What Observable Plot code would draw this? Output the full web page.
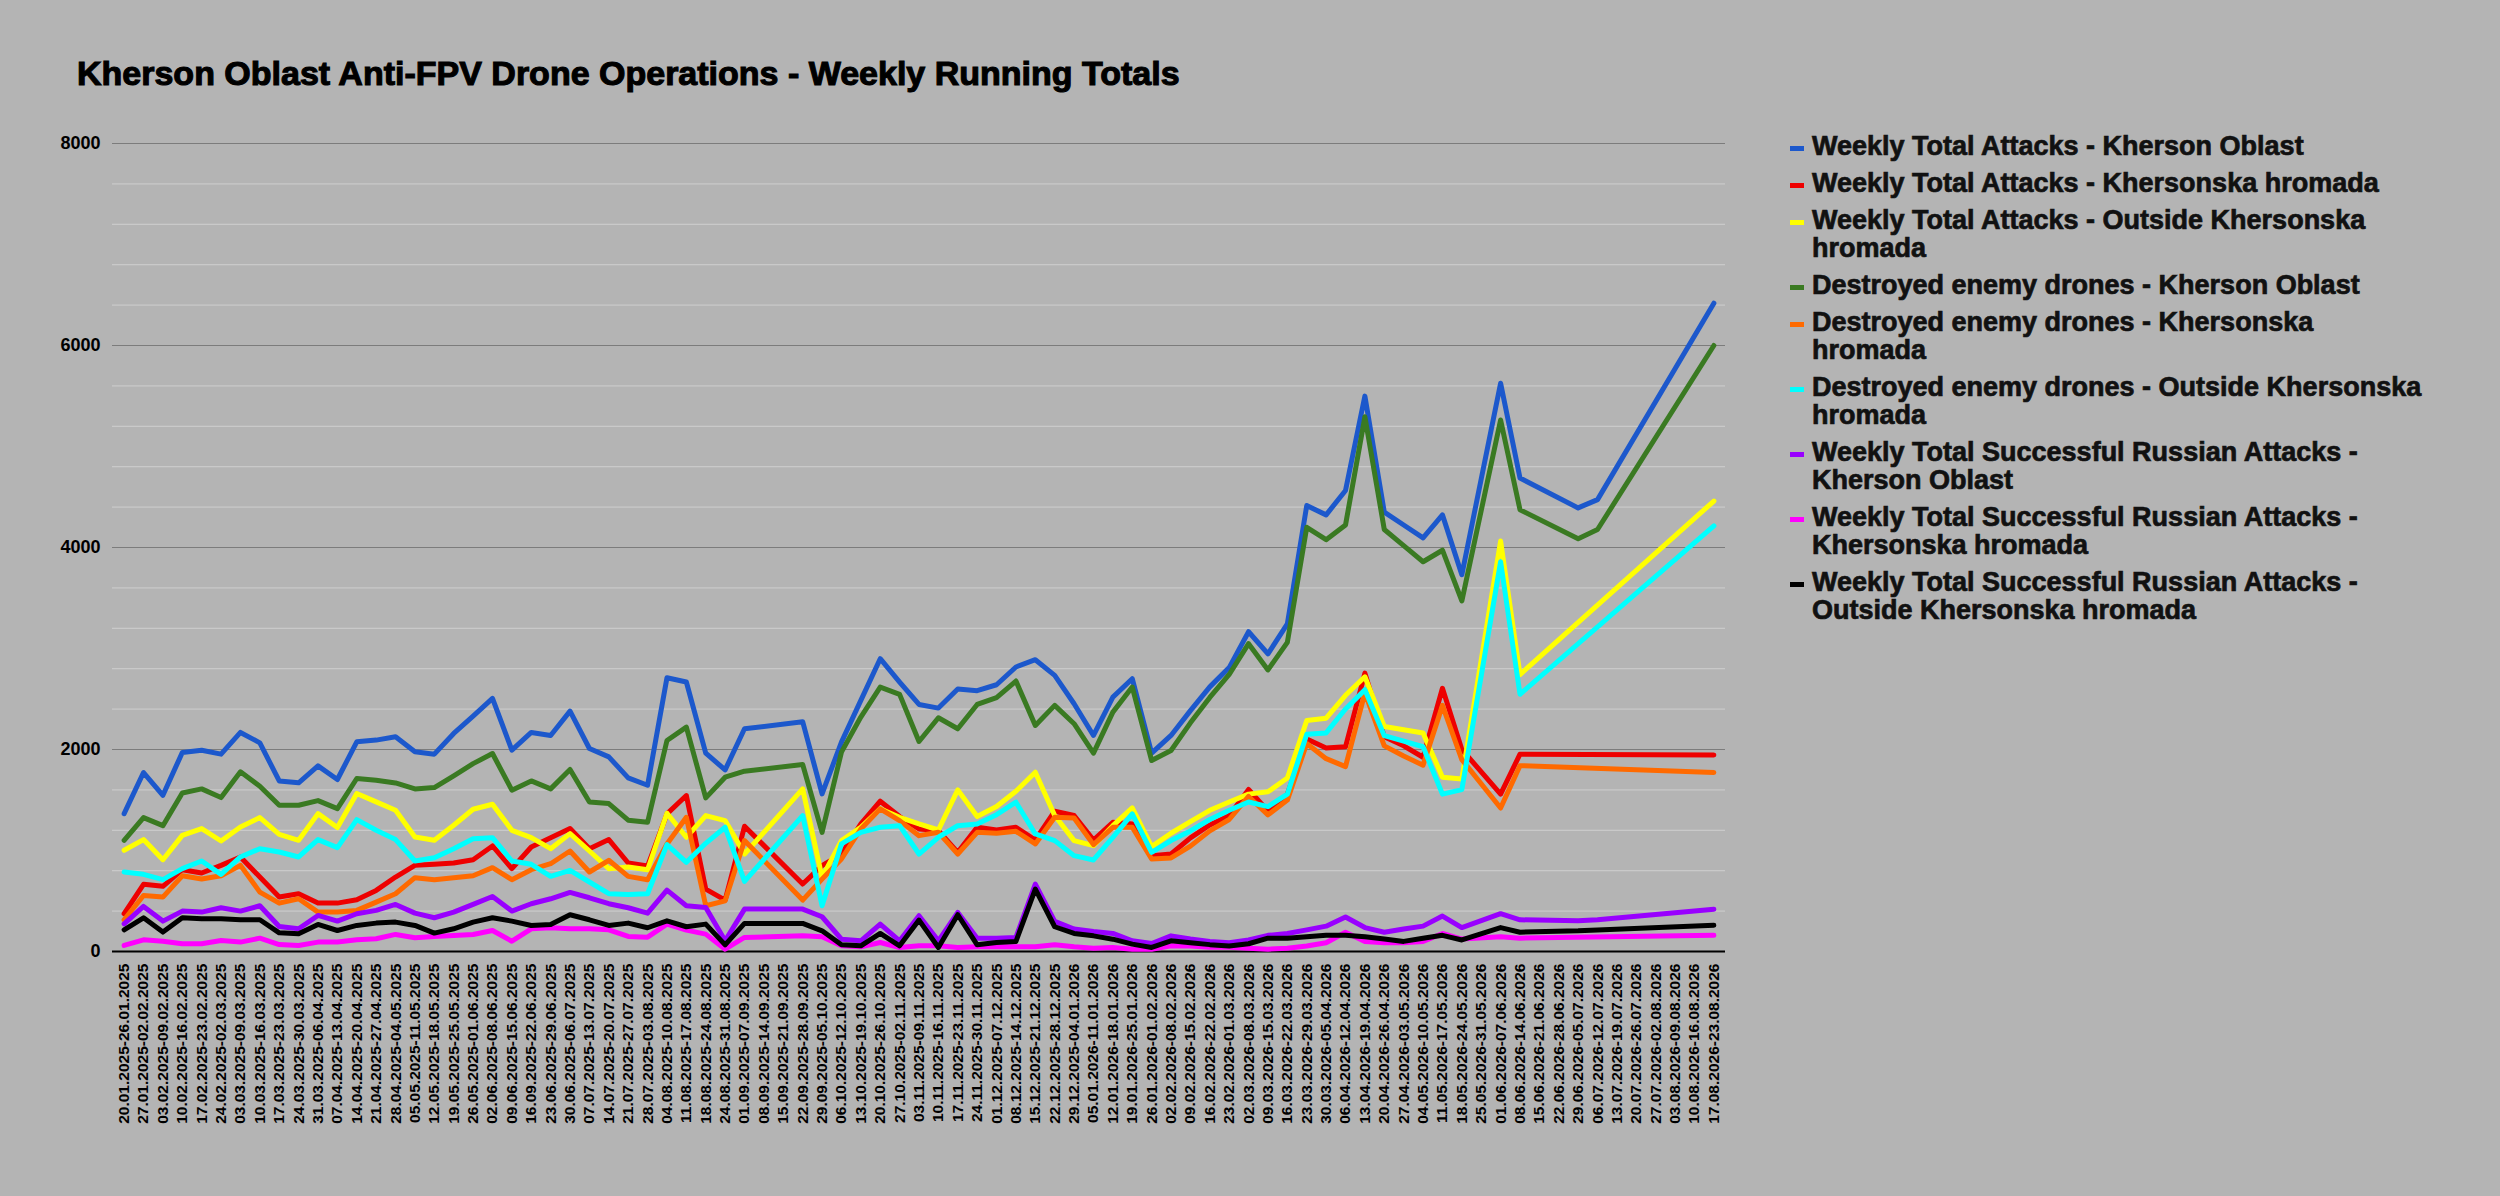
<!DOCTYPE html>
<html><head><meta charset="utf-8">
<script src="https://cdn.jsdelivr.net/npm/d3@7"></script>
<script src="https://cdn.jsdelivr.net/npm/@observablehq/plot@0.6"></script>
<style>
html,body{margin:0;padding:0;background:#b4b4b4;width:2500px;height:1196px;overflow:hidden;font-family:"Liberation Sans",Arial,sans-serif;}
#title{position:absolute;left:77px;top:54px;font-size:34px;font-weight:bold;color:#000;-webkit-text-stroke:1.1px #000;}
#chart{position:absolute;left:0;top:0;}
#legend{position:absolute;left:1790px;top:132px;width:640px;}
.item{display:flex;align-items:flex-start;margin-bottom:9px;}
.sw{width:14px;height:5px;margin-top:14px;margin-right:8px;flex:none;}
.lt{font-size:27px;font-weight:bold;line-height:28px;color:#111;-webkit-text-stroke:0.7px #111;}
</style></head><body>
<div id="title">Kherson Oblast Anti-FPV Drone Operations - Weekly Running Totals</div>
<div id="chart"></div>
<div id="legend"></div>
<script>
const weeks = ["20.01.2025-26.01.2025","27.01.2025-02.02.2025","03.02.2025-09.02.2025","10.02.2025-16.02.2025","17.02.2025-23.02.2025","24.02.2025-02.03.2025","03.03.2025-09.03.2025","10.03.2025-16.03.2025","17.03.2025-23.03.2025","24.03.2025-30.03.2025","31.03.2025-06.04.2025","07.04.2025-13.04.2025","14.04.2025-20.04.2025","21.04.2025-27.04.2025","28.04.2025-04.05.2025","05.05.2025-11.05.2025","12.05.2025-18.05.2025","19.05.2025-25.05.2025","26.05.2025-01.06.2025","02.06.2025-08.06.2025","09.06.2025-15.06.2025","16.09.2025-22.06.2025","23.06.2025-29.06.2025","30.06.2025-06.07.2025","07.07.2025-13.07.2025","14.07.2025-20.07.2025","21.07.2025-27.07.2025","28.07.2025-03.08.2025","04.08.2025-10.08.2025","11.08.2025-17.08.2025","18.08.2025-24.08.2025","24.08.2025-31.08.2025","01.09.2025-07.09.2025","08.09.2025-14.09.2025","15.09.2025-21.09.2025","22.09.2025-28.09.2025","29.09.2025-05.10.2025","06.10.2025-12.10.2025","13.10.2025-19.10.2025","20.10.2025-26.10.2025","27.10.2025-02.11.2025","03.11.2025-09.11.2025","10.11.2025-16.11.2025","17.11.2025-23.11.2025","24.11.2025-30.11.2025","01.12.2025-07.12.2025","08.12.2025-14.12.2025","15.12.2025-21.12.2025","22.12.2025-28.12.2025","29.12.2025-04.01.2026","05.01.2026-11.01.2026","12.01.2026-18.01.2026","19.01.2026-25.01.2026","26.01.2026-01.02.2026","02.02.2026-08.02.2026","09.02.2026-15.02.2026","16.02.2026-22.02.2026","23.02.2026-01.03.2026","02.03.2026-08.03.2026","09.03.2026-15.03.2026","16.03.2026-22.03.2026","23.03.2026-29.03.2026","30.03.2026-05.04.2026","06.04.2026-12.04.2026","13.04.2026-19.04.2026","20.04.2026-26.04.2026","27.04.2026-03.05.2026","04.05.2026-10.05.2026","11.05.2026-17.05.2026","18.05.2026-24.05.2026","25.05.2026-31.05.2026","01.06.2026-07.06.2026","08.06.2026-14.06.2026","15.06.2026-21.06.2026","22.06.2026-28.06.2026","29.06.2026-05.07.2026","06.07.2026-12.07.2026","13.07.2026-19.07.2026","20.07.2026-26.07.2026","27.07.2026-02.08.2026","03.08.2026-09.08.2026","10.08.2026-16.08.2026","17.08.2026-23.08.2026"];

const seriesNames = ["Weekly Total Attacks - Kherson Oblast","Weekly Total Attacks - Khersonska hromada","Weekly Total Attacks - Outside Khersonska hromada","Destroyed enemy drones - Kherson Oblast","Destroyed enemy drones - Khersonska hromada","Destroyed enemy drones - Outside Khersonska hromada","Weekly Total Successful Russian Attacks - Kherson Oblast","Weekly Total Successful Russian Attacks - Khersonska hromada","Weekly Total Successful Russian Attacks - Outside Khersonska hromada"];
const seriesColors = ["#1c58cc","#ee0000","#ffff00","#3a7a22","#ff6a00","#00ffff","#9900ff","#ff00ff","#000000"];

const N = null;
const attacksOblast = [1365,1772,1547,1970,1993,1954,2169,2066,1689,1670,1838,1703,2076,2093,2126,1977,1954,2159,2331,2506,1993,2169,2139,2380,2010,1927,1719,1646,
 2711,2668,1964,1798,2205,N,N,2275,1560,2073,2486,2899,2668,2446,2410,2599,2582,2641,2817,2889,2734,2453,2139,2519,2701,1964,2139,
 2385,2620,2811,3166,2947,3244,4415,4323,4565,5499,4351,4223,4096,4323,3731,N,5626,4688,N,N,4392,4474,N,N,N,N,N,6419];
const attacksHromada = [374,665,645,810,777,853,936,737,539,572,479,479,512,605,737,853,863,876,909,1045,820,1035,1127,1217,1018,1108,876,846,
 1362,1544,618,509,1240,N,N,668,850,965,1263,1488,1336,1213,1197,982,1230,1203,1230,1104,1389,1346,1104,1279,1263,949,965,
 1125,1253,1344,1604,1389,1558,2105,2014,2027,2756,2127,2036,1923,2606,2000,N,1558,1954,N,N,N,N,N,N,N,N,N,1945];
const attacksOutside = [1002,1108,909,1150,1217,1094,1233,1326,1160,1101,1365,1227,1564,1481,1398,1134,1101,1250,1408,1458,1200,1127,1018,1167,995,820,836,810,
 1369,1131,1346,1296,965,N,N,1610,734,1098,1230,1412,1329,1263,1203,1600,1336,1435,1587,1775,1346,1098,1048,1246,1422,1038,1171,
 1285,1398,1480,1558,1581,1717,2287,2310,2537,2720,2228,2196,2164,1726,1708,N,4064,2742,N,N,N,N,N,N,N,N,N,4460];
const destroyedOblast = [1101,1326,1246,1570,1610,1524,1779,1636,1448,1448,1494,1415,1713,1696,1669,1610,1623,1740,1860,1960,1597,1689,1610,1802,1481,1465,1300,1280,
 2089,2222,1521,1726,1785,N,N,1851,1180,1974,2321,2618,2546,2079,2314,2205,2446,2513,2678,2238,2437,2255,1964,2370,2618,1891,1990,
 2264,2515,2743,3048,2788,3061,4200,4077,4223,5294,4178,4018,3859,3973,3471,N,5262,4374,N,N,4087,4178,N,N,N,N,N,6000];
const destroyedHromada = [314,555,539,750,717,750,853,588,479,522,390,390,407,489,572,731,711,731,750,830,711,810,869,995,787,903,744,711,
 1065,1329,453,502,1098,N,N,509,717,916,1213,1412,1296,1147,1180,965,1180,1170,1190,1065,1329,1322,1058,1230,1230,916,926,
 1043,1194,1307,1535,1353,1499,2059,1909,1831,2560,2036,1936,1845,2437,1900,N,1421,1840,N,N,N,N,N,N,N,N,N,1772];
const destroyedOutside = [787,764,711,820,896,764,936,1018,985,936,1108,1028,1306,1200,1108,896,929,1018,1117,1127,896,863,744,803,688,572,565,572,
 1058,883,1071,1230,694,N,N,1346,453,1065,1180,1230,1246,965,1131,1246,1263,1355,1478,1164,1098,949,906,1131,1362,982,1098,
 1194,1307,1398,1480,1435,1558,2150,2164,2401,2592,2137,2082,2027,1558,1603,N,3859,2547,N,N,N,N,N,N,N,N,N,4214];
const successOblast = [274,446,301,400,390,433,400,453,248,225,357,301,374,407,466,380,334,390,466,545,400,473,522,585,532,473,433,380,
 608,453,436,106,420,N,N,420,344,122,106,271,106,354,106,387,132,132,139,668,298,222,198,179,106,79,155,
 123,100,87,114,160,178,214,251,342,237,191,223,251,351,237,N,374,314,N,N,305,314,N,N,N,N,N,419];
const successHromada = [60,116,102,76,76,109,93,132,69,60,93,93,116,126,169,136,149,159,169,208,102,225,235,225,225,215,149,142,
 271,212,172,23,139,N,N,155,145,56,46,89,40,56,56,40,46,46,46,46,66,46,33,40,23,23,56,
 55,41,41,32,23,32,55,87,191,100,87,87,100,178,123,N,146,132,N,N,N,N,N,N,N,N,N,160];
const successOutside = [215,334,192,334,324,324,314,314,185,175,268,208,258,281,291,258,182,225,291,334,301,258,268,364,314,258,281,235,
 304,245,271,66,278,N,N,278,205,66,56,179,56,311,40,364,66,89,99,618,245,179,155,122,73,40,106,
 87,68,55,77,132,132,146,160,160,146,123,100,132,160,114,N,237,191,N,N,205,214,N,N,N,N,N,260];

const yTicks = [0,2000,4000,6000,8000];
const minorTicks = d3.range(400, 8001, 400).filter(v => v % 2000 !== 0);

const allSeries = [attacksOblast,attacksHromada,attacksOutside,destroyedOblast,destroyedHromada,destroyedOutside,successOblast,successHromada,successOutside];
const rows = [];
allSeries.forEach((arr, s) => arr.forEach((v, i) => { if (v != null) rows.push({week: weeks[i], value: v, series: seriesNames[s]}); }));

const chart = Plot.plot({
  width: 1740, height: 1196,
  marginLeft: 112, marginRight: 15, marginTop: 143, marginBottom: 245,
  style: {background: "transparent", fontFamily: "Liberation Sans, Arial, sans-serif", color: "#000"},
  x: {type: "point", domain: weeks, padding: 0.6, label: null},
  y: {domain: [0, 8000], label: null},
  color: {domain: seriesNames, range: seriesColors},
  marks: [
    Plot.ruleY(minorTicks, {stroke: "#c9c9c9", strokeWidth: 1.2}),
    Plot.ruleY(yTicks.slice(1), {stroke: "#7c7c7c", strokeWidth: 1.2}),
    Plot.ruleY([0], {stroke: "#000", strokeWidth: 2}),
    Plot.axisY({ticks: yTicks, tickSize: 0, tickPadding: 12, fontSize: 18, fontWeight: "bold", tickFormat: d => String(d)}),
    Plot.axisX({tickSize: 0, tickRotate: -90, fontSize: 15.5, fontWeight: "bold", tickPadding: 12}),
    Plot.line(rows, {x: "week", y: "value", z: "series", stroke: "series", strokeWidth: 5, strokeLinejoin: "round"})
  ]
});
document.getElementById("chart").appendChild(chart);

const lg = document.getElementById("legend");
seriesNames.forEach((n, i) => {
  const d = document.createElement("div"); d.className = "item";
  d.innerHTML = `<div class="sw" style="background:${seriesColors[i]}"></div><div class="lt">${n}</div>`;
  lg.appendChild(d);
});
</script></body></html>
